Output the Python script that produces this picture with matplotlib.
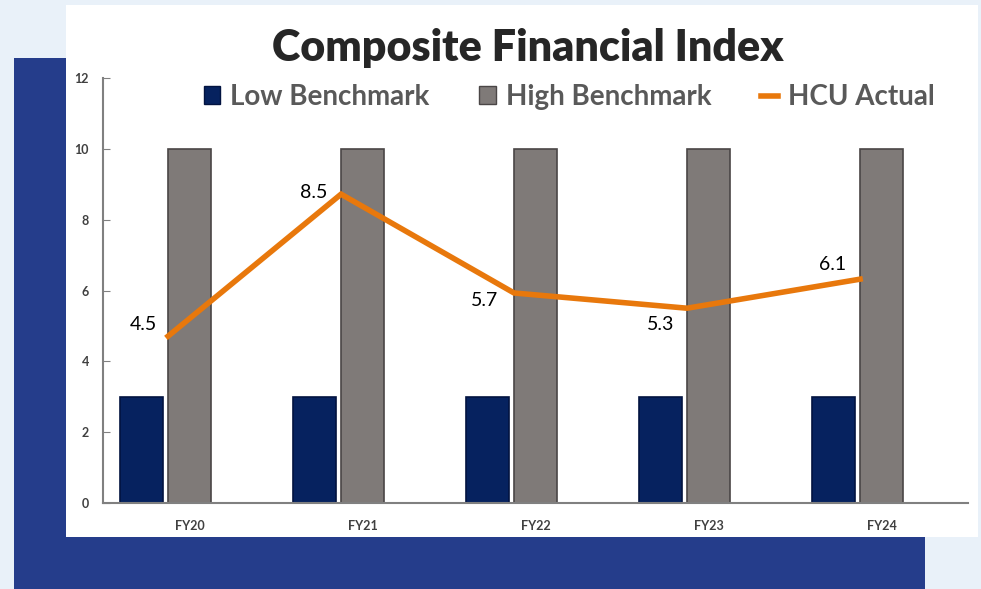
import matplotlib.pyplot as plt
from matplotlib.patches import Rectangle, Patch
from matplotlib.lines import Line2D
import numpy as np

years = ["FY20", "FY21", "FY22", "FY23", "FY24"]
low_bench = [3, 3, 3, 3, 3]
high_bench = [10, 10, 10, 10, 10]
hcu_line = [4.71, 8.72, 5.93, 5.5, 6.32]
hcu_labels = ["4.5", "8.5", "5.7", "5.3", "6.1"]

navy = "#06225f"
grey = "#7f7a78"
orange = "#e8780c"
font = "Lato"

fig = plt.figure(figsize=(9.81, 5.89), dpi=100)
fig.patch.set_facecolor("#e9f1f9")
fig.add_artist(Rectangle((14/981, 0), 911/981, 531/589, transform=fig.transFigure,
                         facecolor="#253d8b", edgecolor="none", zorder=0))
fig.add_artist(Rectangle((66/981, 52/589), 912/981, 532/589, transform=fig.transFigure,
                         facecolor="white", edgecolor="none", zorder=0))

ax = fig.add_axes([103/981, 86/589, 865/981, 425/589])
ax.set_facecolor("none")
x = np.arange(len(years))
ax.bar(x - 0.277, low_bench, width=0.25, color=navy, edgecolor="#021340", linewidth=1.2)
ax.bar(x, high_bench, width=0.25, color=grey, edgecolor="#4a4646", linewidth=1.2)
ax.plot(x - 0.124, hcu_line, color=orange, linewidth=4, solid_joinstyle="miter")

# label offsets from the line points, in pixels
offsets = [(-25, 13), (-27, 3), (-30, -6), (-26, -15), (-27, 16)]
for i, lab in enumerate(hcu_labels):
    ax.annotate(lab, (x[i] - 0.124, hcu_line[i]), xytext=(offsets[i][0] * 0.72, offsets[i][1] * 0.72),
                textcoords="offset points", ha="center", va="center_baseline",
                fontsize=14, color="black", family=font)

ax.set_xlim(-0.5, len(years) - 0.5)
ax.set_ylim(0, 12)
ax.set_yticks([0, 2, 4, 6, 8, 10, 12])
ax.set_xticks(x)
ax.set_xticklabels(years)
for s in ["top", "right"]:
    ax.spines[s].set_visible(False)
for s in ["left", "bottom"]:
    ax.spines[s].set_color("#808080")
    ax.spines[s].set_linewidth(1.5)
ax.tick_params(axis="y", direction="in", length=5, color="#808080", pad=10)
ax.tick_params(axis="x", length=0, pad=12)
for t in ax.get_xticklabels() + ax.get_yticklabels():
    t.set_fontsize(9)
    t.set_fontweight("bold")
    t.set_color("#404040")
    t.set_family(font)

fig.text(528/981, 1 - 48/589, "Composite Financial Index", ha="center", va="center",
         fontsize=31, fontweight="heavy", color="#262626", family=font)

handles = [Patch(facecolor=navy, edgecolor="#021340"),
           Patch(facecolor=grey, edgecolor="#4a4646"),
           Line2D([0], [0], color=orange, linewidth=4)]
leg = fig.legend(handles, ["Low Benchmark", "High Benchmark", "HCU Actual"], ncol=3,
                 loc="center", bbox_to_anchor=(569/981, 1 - 97/589), frameon=False,
                 prop={"family": font, "size": 20, "weight": "bold"},
                 handlelength=0.6, handleheight=0.6, columnspacing=1.8, handletextpad=0.35)
for t in leg.get_texts():
    t.set_color("#595959")

fig.savefig("out.png", dpi=100, facecolor=fig.get_facecolor())
